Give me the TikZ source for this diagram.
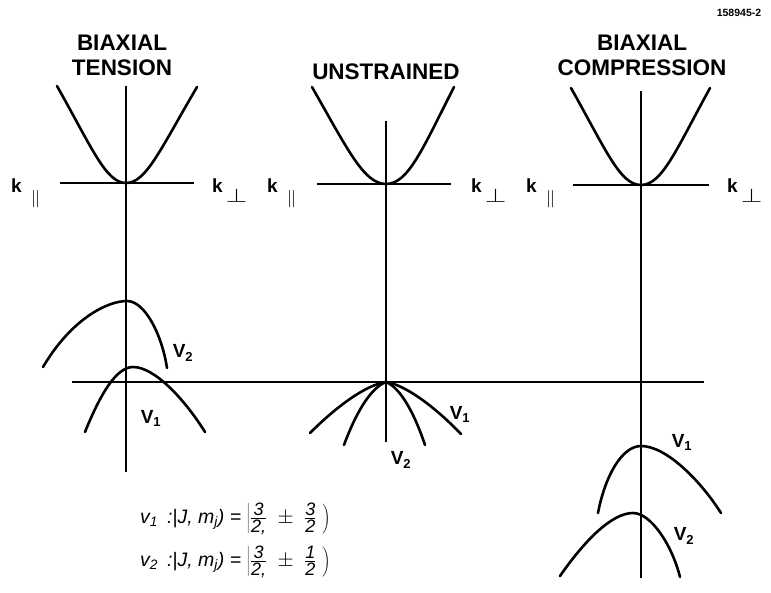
\documentclass[tikz,border=0pt]{standalone}
\usepackage{graphicx}
\usepackage{fontspec}
\setmainfont{Liberation Sans}
\newfontfamily\eqfont{Liberation Sans}
\newcommand{\myfr}[2]{{\textstyle{\mbox{\fontsize{18}{18}\selectfont #1}\above 0.9pt\mbox{\fontsize{18}{18}\selectfont #2}}}}
\newcommand{\kpar}{k\hspace{9pt}\raisebox{-11pt}{\scalebox{1.1}[1.0]{$\parallel$}}}
\newcommand{\kperp}{k\hspace{3pt}\raisebox{-10pt}{\scalebox{1.6}[1.15]{$\perp$}}}
\newcommand{\vsub}[1]{V$_{\mbox{\fontsize{13}{13}\selectfont\bfseries #1}}$}
\begin{document}
\begin{tikzpicture}[x=1pt,y=-1pt,
  curve/.style={line width=2.6pt,line cap=round},
  axis/.style={line width=1.6pt},
  kline/.style={line width=2.2pt},
  title/.style={font=\fontsize{22.5}{25}\selectfont\bfseries,align=center,inner sep=0pt},
  klab/.style={font=\fontsize{19}{21}\selectfont\bfseries,inner sep=0pt,anchor=base west},
  vlab/.style={font=\fontsize{19}{21}\selectfont\bfseries,inner sep=0pt},
  eq/.style={font=\fontsize{19.5}{22}\selectfont\eqfont\itshape,inner sep=0pt,anchor=west}]
\useasboundingbox (0,0) rectangle (771,592);
% id
\node[font=\fontsize{10.5}{12}\selectfont\bfseries,inner sep=0pt] (id) at (739,13) {158945-2};
% titles
\node[title] (t1) at (122,55) {BIAXIAL\\TENSION};
\node[title] (t2) at (386,72) {UNSTRAINED};
\node[title] (t3) at (642,55) {BIAXIAL\\COMPRESSION};
% ---------- panel 1 ----------
\coordinate (a1t) at (126,86);
\coordinate (a1b) at (126,472);
\draw[axis] (a1t) -- (a1b);
\coordinate (k1l) at (60,183);
\coordinate (k1r) at (194,183);
\draw[kline] (k1l) -- (k1r);
\draw[curve] (57,86) .. controls (92,148) and (106,183) .. (126,183)
  .. controls (146,183) and (160,150) .. (197,87);
\node[klab] (kp1) at (11,192) {\kpar};
\node[klab] (kq1) at (212,192) {\kperp};
% valence
\draw[curve] (43,367) .. controls (72,318) and (108,301) .. (127,301)
  .. controls (145,301) and (162,335) .. (167,368);
\draw[curve] (85,432) .. controls (100,395) and (116,367) .. (133,367)
  .. controls (155,367) and (185,400) .. (205,432);
\node[vlab] (v21) at (183,353) {\vsub{2}};
\node[vlab] (v11) at (151,418) {\vsub{1}};
% ---------- panel 2 ----------
\coordinate (a2t) at (386,121);
\coordinate (a2b) at (386,442);
\draw[axis] (a2t) -- (a2b);
\coordinate (k2l) at (317,184);
\coordinate (k2r) at (451,184);
\draw[kline] (k2l) -- (k2r);
\draw[curve] (312,87) .. controls (348,150) and (364,184) .. (386,184)
  .. controls (408,184) and (422,150) .. (454,87);
\node[klab] (kp2) at (267,192) {\kpar};
\node[klab] (kq2) at (471,192) {\kperp};
\coordinate (pk2) at (386,382);
\draw[curve] (pk2) .. controls (365,385) and (335,408) .. (310,433);
\draw[curve] (pk2) .. controls (370,388) and (355,415) .. (344,445);
\draw[curve] (pk2) .. controls (401,388) and (415,415) .. (425,445);
\draw[curve] (pk2) .. controls (406,385) and (436,408) .. (461,434);
\node[vlab] (v12) at (460,414) {\vsub{1}};
\node[vlab] (v22) at (401,460) {\vsub{2}};
% ---------- panel 3 ----------
\coordinate (a3t) at (641,91);
\coordinate (a3b) at (641,578);
\draw[axis] (a3t) -- (a3b);
\coordinate (k3l) at (573,185);
\coordinate (k3r) at (709,185);
\draw[kline] (k3l) -- (k3r);
\draw[curve] (571,88) .. controls (606,150) and (620,185) .. (641,185)
  .. controls (662,185) and (676,150) .. (710,88);
\node[klab] (kp3) at (526,192) {\kpar};
\node[klab] (kq3) at (727,192) {\kperp};
\draw[curve] (598,513) .. controls (605,476) and (622,446) .. (641,446)
  .. controls (666,446) and (700,480) .. (721,513);
\draw[curve] (560,576) .. controls (585,540) and (612,513) .. (633,513)
  .. controls (651,513) and (672,545) .. (680,577);
\node[vlab] (v13) at (682,442) {\vsub{1}};
\node[vlab] (v23) at (684,536) {\vsub{2}};
% ---------- common valence-band top ----------
\coordinate (vl) at (72,382);
\coordinate (vr) at (704,382);
\draw[kline] (vl) -- (vr);
% ---------- equations ----------
\node[eq] (eq1) at (140,519) {v\textsubscript{1}\hspace{9pt}:|J, m\textsubscript{j}) = $\left|\myfr{3}{2,}\;\pm\;\myfr{3}{2}\;\right)$};
\node[eq] (eq2) at (140,562) {v\textsubscript{2}\hspace{9pt}:|J, m\textsubscript{j}) = $\left|\myfr{3}{2,}\;\pm\;\myfr{1}{2}\;\right)$};
\end{tikzpicture}
\end{document}
